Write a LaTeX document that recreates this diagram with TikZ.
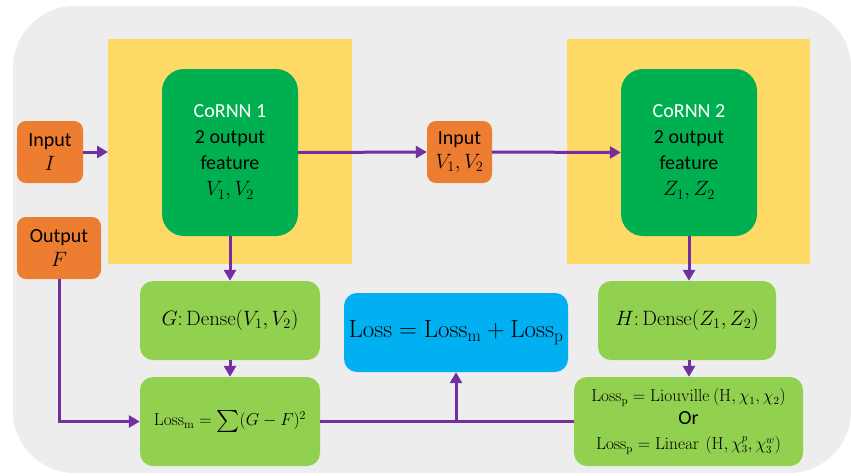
\documentclass[tikz,border=0pt]{standalone}
\usepackage[no-math]{fontspec}
\setmainfont{Carlito}
\usepackage{graphicx}
\usetikzlibrary{arrows.meta}
\definecolor{bggrey}{HTML}{EDEDED}
\definecolor{ylw}{HTML}{FFD966}
\definecolor{dgreen}{HTML}{00B050}
\definecolor{lgreen}{HTML}{92D050}
\definecolor{lblue}{HTML}{00B0F0}
\definecolor{orng}{HTML}{ED7D31}
\definecolor{purp}{HTML}{7030A0}
\tikzset{
  corebox/.style={fill=dgreen, rounded corners=22pt, minimum width=136pt, minimum height=167pt, align=center, inner sep=0pt, font=\fontsize{20}{26}\selectfont},
  orbox/.style={fill=orng, rounded corners=9pt, align=center, inner sep=0pt, font=\fontsize{20}{24}\selectfont},
  gbox/.style={fill=lgreen, rounded corners=13pt, align=center, inner sep=0pt, font=\fontsize{21.5}{24}\selectfont},
  bbox/.style={fill=lblue, rounded corners=13pt, align=center, inner sep=0pt, font=\fontsize{23}{26}\selectfont},
  flow/.style={draw=purp, line width=3pt, -{Triangle[length=11pt,width=12pt]}},
  plain/.style={draw=purp, line width=3pt}
}
\begin{document}
\begin{tikzpicture}[x=1pt,y=-1pt]
\path[fill=white] (0,0) rectangle (851,475);
\useasboundingbox (0,0) rectangle (851,475);
\fill[bggrey, rounded corners=62pt] (13,6) rectangle (851,473);
\fill[ylw] (108,39) rectangle (352,264);
\fill[ylw] (567,39) rectangle (810,264);

\node[corebox] (c1) at (230,152.5) {\textcolor{white}{CoRNN 1}\\2 output\\feature\\$V_1,V_2$};
\node[corebox] (c2) at (689,152.5) {\textcolor{white}{CoRNN 2}\\2 output\\feature\\$Z_1,Z_2$};

\node[orbox, minimum width=66pt, minimum height=62pt] (inI) at (50,152) {Input\\$I$};
\node[orbox, minimum width=84pt, minimum height=62pt] (outF) at (59,248) {Output\\$F$};
\node[orbox, minimum width=65pt, minimum height=62pt] (inV) at (459.5,152) {Input\\$V_1,V_2$};

\node[gbox, minimum width=180pt, minimum height=79pt] (G) at (230,320.5) {$G\colon\mathrm{Dense}(V_1,V_2)$};
\node[gbox, minimum width=178pt, minimum height=79pt] (H) at (687,320.5) {$H\colon\mathrm{Dense}(Z_1,Z_2)$};
\node[gbox, minimum width=180pt, minimum height=89pt, font=\fontsize{17}{20}\selectfont] (Lm) at (230,421.5) {$\mathrm{Loss_m}=\mathop{\vcenter{\hbox{\scalebox{2.2}{$\sum$}}}}(G-F)^2$};
\node[gbox, minimum width=229pt, minimum height=89pt, font=\fontsize{16}{24}\selectfont] (Lp) at (688.5,421.5) {$\mathrm{Loss_p}=\mathrm{Liouville}\ (\mathrm{H},\chi_1,\chi_2)$\\[-1pt]{\fontsize{20}{24}\selectfont Or}\\[1pt]$\mathrm{Loss_p}=\mathrm{Linear}\ \left(\mathrm{H},\chi_3^p,\chi_3^w\right)$};
\node[bbox, minimum width=224pt, minimum height=79pt] (L) at (456,332.5) {$\mathrm{Loss}=\mathrm{Loss_m}+\mathrm{Loss_p}$};

\coordinate (y1w) at (108,152);
\coordinate (br) at (L.south |- Lm.east);

\draw[flow] (inI.east) -- (y1w);
\draw[flow] (c1.east) -- (inV.west);
\draw[flow] (inV.east) -- (c2.west);
\draw[flow] (c1.south) -- (G.north);
\draw[flow] (c2.south) -- (c2.south |- H.north);
\draw[flow] (G.south) -- (Lm.north);
\draw[flow] (c2.south |- H.south) -- (c2.south |- Lp.north);
\draw[flow] (outF.south) |- (Lm.west);
\draw[plain] (Lm.east) -- (Lp.west);
\draw[flow] (br) -- (L.south);
\end{tikzpicture}
\end{document}
